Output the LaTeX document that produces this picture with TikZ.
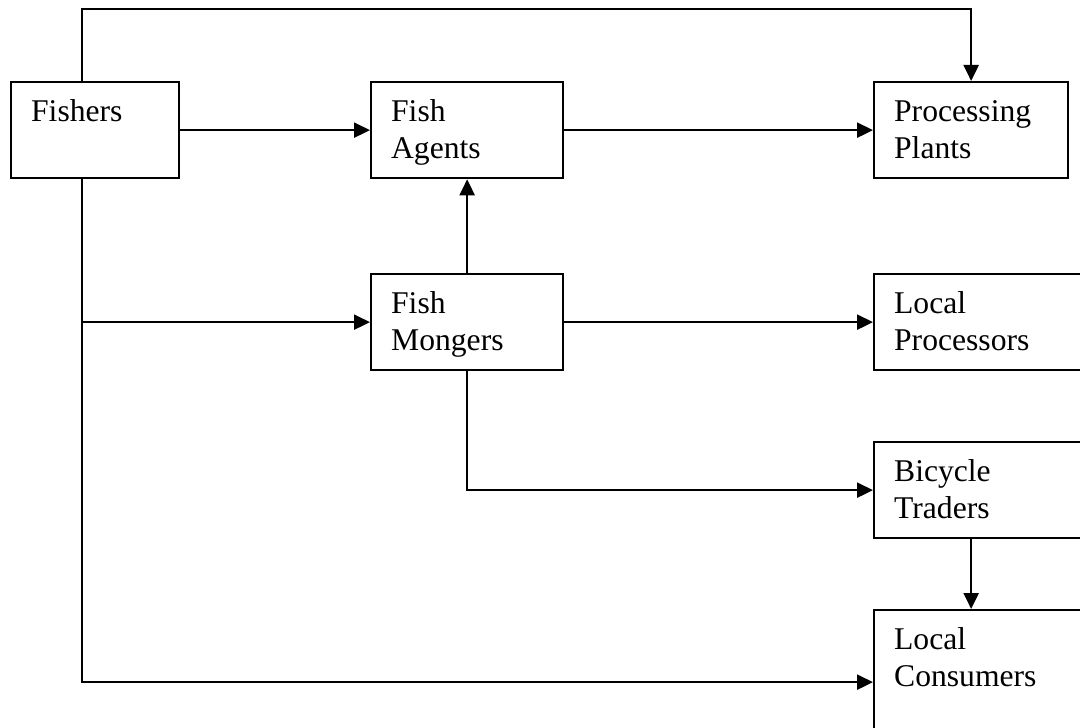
\documentclass[tikz,border=0pt]{standalone}
\usepackage{fontspec}
\setmainfont{Liberation Serif}
\usepackage{tikz}
\usetikzlibrary{arrows.meta,positioning,calc}
\tikzset{%
	actor/.style = {draw, rectangle, anchor=north west, align=left, line width=1.3pt, inner xsep=0.4cm, inner ysep=0pt, text height=0.78cm, text depth=1.14cm, font=\fontsize{18}{21}\selectfont},
	arrow/.style = {line width=1.3pt, -{Triangle[length=0.32cm,width=0.3cm]}},
}

\begin{document}
\begin{tikzpicture}
	\clip (0,0) rectangle (21.6,-14.56);
	
	% upper row
	\node[actor, text width=2.56cm] (fishers) at (0.2,-1.62) {Fishers};
	\node[actor, text width=3.04cm] (agents) at (7.4,-1.62) {Fish\\Agents};
	\node[actor, text width=3.08cm] (plants) at (17.46,-1.62) {Processing\\Plants};
	
	% middle and right column
	\node[actor, text width=3.04cm] (mongers) at (7.4,-5.46) {Fish\\Mongers};
	\node[actor, text width=3.8cm] (localproc) at (17.46,-5.46) {Local\\Processors};
	\node[actor, text width=3.8cm] (bicycle) at (17.46,-8.82) {Bicycle\\Traders};
	\node[actor, text width=3.8cm, text depth=2.1cm] (consumers) at (17.46,-12.18) {Local\\Consumers};
	
	\coordinate (fx) at (1.64,0);
	\coordinate (topline) at (0,-0.18);
	
	\draw[arrow] (fishers.north -| fx) |- (topline -| plants.north) -- (plants.north);
	\draw[arrow] (fishers) -- (agents);
	\draw[arrow] (agents) -- (plants);
	\draw[arrow] (mongers) -- (agents);
	\draw[arrow] (mongers) -- (localproc);
	\draw[arrow] (mongers.south) |- (bicycle.west);
	\draw[arrow] (bicycle.south -| plants.north) -- (consumers.north -| plants.north);
	
	% trunk from the fishers
	\draw[arrow] (fishers.south -| fx) |- (consumers.west);
	\draw[arrow] (mongers.west -| fx) -- (mongers.west);
\end{tikzpicture}
\end{document}
